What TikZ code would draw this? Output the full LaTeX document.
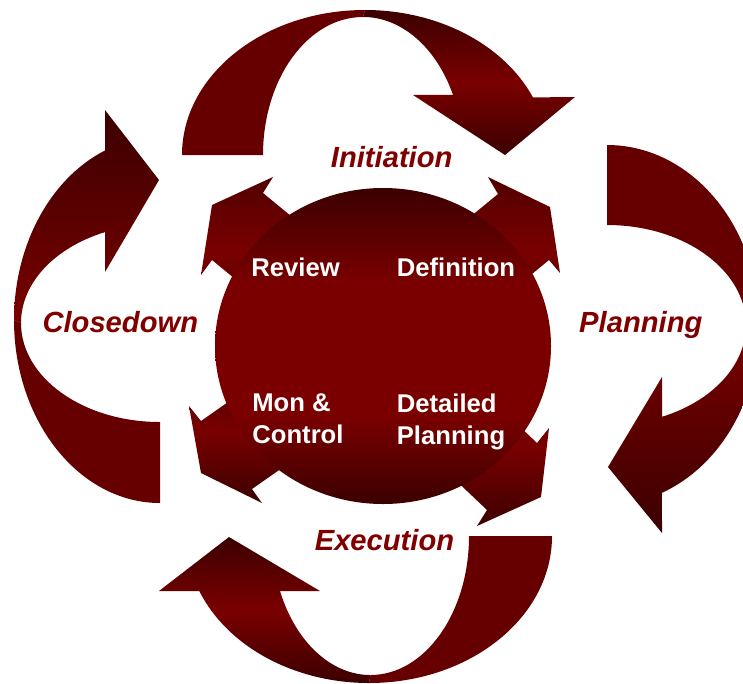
\documentclass[tikz,border=0pt]{standalone}
\usepackage{fontspec}
\setmainfont{Liberation Sans}
\definecolor{ribbon}{HTML}{660000}
\definecolor{deep}{HTML}{3C0000}
\definecolor{bright}{HTML}{7A0000}
\definecolor{labelred}{HTML}{800000}
\pgfdeclareverticalshading{disc}{100bp}{color(0bp)=(deep); color(25bp)=(deep); color(39bp)=(bright); color(60bp)=(bright); color(75bp)=(deep); color(100bp)=(deep)}
\begin{document}
\begin{tikzpicture}[x=0.02cm,y=-0.02cm,
  tail/.style={fill=ribbon},
  stage/.style={text=labelred,inner sep=0pt,anchor=base,font=\fontsize{16.6}{20}\selectfont\bfseries\itshape},
  task/.style={text=white,inner sep=0pt,align=left,font=\fontsize{14.6}{18.1}\selectfont\bfseries}]
\useasboundingbox (0,0) rectangle (743,683);
\clip (0,0) rectangle (743,683);

\fill[tail] (182,155) arc[start angle=180,end angle=270,x radius=183,y radius=145] -- (363,17) arc[start angle=270,end angle=180,x radius=100,y radius=138] -- cycle;
\shade[top color=deep,bottom color=deep,middle color=bright] (365,10) arc[start angle=270,end angle=336.6,x radius=183,y radius=145] -- (575,97) -- (505,155) -- (413,95) -- (453,94.9) arc[start angle=334.2,end angle=270,x radius=100,y radius=138] -- cycle;

\fill[tail] (607,145) arc[start angle=270,end angle=360,x radius=152,y radius=180] -- (746,325) arc[start angle=0,end angle=-90,x radius=139,y radius=100] -- cycle;
\shade[top color=bright,bottom color=deep] (759,325) arc[start angle=0,end angle=68.8,x radius=152,y radius=180] -- (662,533) -- (608,467) -- (662,377) -- (662,416.8) arc[start angle=66.7,end angle=0,x radius=139,y radius=100] -- cycle;

\fill[tail] (552,536) arc[start angle=0,end angle=90,x radius=183,y radius=147] -- (370.5,675) arc[start angle=90,end angle=0,x radius=98.5,y radius=139] -- cycle;
\shade[top color=deep,bottom color=deep,middle color=bright] (369,683) arc[start angle=90,end angle=158,x radius=183,y radius=147] -- (159,591) -- (229,537) -- (320,591) -- (280,591) arc[start angle=156.7,end angle=90,x radius=98.5,y radius=139] -- cycle;

\fill[tail] (160,503) arc[start angle=90,end angle=180,x radius=146,y radius=183] -- (21,323) arc[start angle=180,end angle=90,x radius=139,y radius=99] -- cycle;
\shade[top color=deep,bottom color=bright] (14,320) arc[start angle=180,end angle=247.9,x radius=146,y radius=183] -- (105,110) -- (159,180) -- (105,272) -- (105,232.1) arc[start angle=246.7,end angle=180,x radius=139,y radius=99] -- cycle;

% corner arrows under the disc
\shade[shading angle=-40,top color=ribbon!80!black,bottom color=deep,middle color=bright] (348,263) -- (263,193) -- (273,177) -- (212,205) -- (201,275) -- (212,260) -- (297,330) -- cycle;
\shade[shading angle=40,top color=ribbon!80!black,bottom color=deep,middle color=bright] (413,264) -- (498,194) -- (488,177) -- (550,207) -- (560,273) -- (549,260) -- (464,330) -- cycle;
\shade[shading angle=35,top color=deep,bottom color=deep,middle color=bright] (291,358) -- (201,421) -- (189,406) -- (201,473) -- (262,503) -- (252,489) -- (342,426) -- cycle;
\shade[shading angle=-45,top color=ribbon!80!black,bottom color=deep,middle color=bright] (457,367) -- (537,443) -- (549,428) -- (541,497) -- (477,526) -- (487,510) -- (407,434) -- cycle;

\shade[shading=disc] (383,346) ellipse[x radius=168,y radius=158];

\node[stage] (init) at (391.7,167) {Initiation};
\node[stage] (plan) at (640.8,332) {Planning};
\node[stage] (exec) at (384.5,550) {Execution};
\node[stage] (close) at (120.3,332.7) {Closedown};

\node[task,anchor=base west] (review) at (251,276.7) {Review};
\node[task,anchor=base west] (define) at (396.5,276.7) {Definition};
\node[task,anchor=north west] (monitor) at (252,393.5) {Mon \&\\Control};
\node[task,anchor=north west] (detail) at (396.5,393.5) {Detailed\\Planning};

\end{tikzpicture}
\end{document}
